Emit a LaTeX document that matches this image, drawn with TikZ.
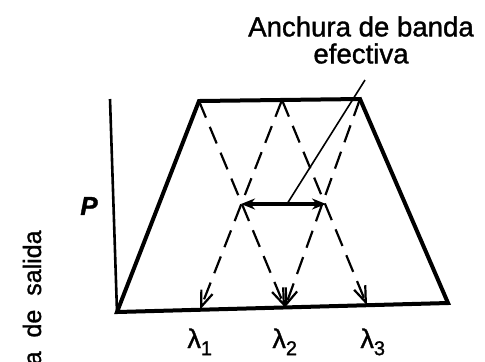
\documentclass[tikz,border=0pt]{standalone}
\usepackage{fontspec}
\setmainfont{Liberation Sans}[FakeBold=1.2]
\newfontfamily\widefont{Liberation Sans}[FakeBold=1.2,WordSpace=2]
\usetikzlibrary{arrows.meta,positioning,calc}

\newcommand{\wlen}[1]{λ\raisebox{-0.5ex}{\fontsize{10}{10}\selectfont #1}}

\begin{document}
\begin{tikzpicture}[x=0.5pt,y=-0.5pt,
  edge/.style={line width=2pt,line join=miter},
  axisline/.style={line width=1.3pt},
  ray/.style={line width=1.1pt,dash pattern=on 9pt off 5pt,
    -{Straight Barb[length=8pt,width=6pt]}},
  band/.style={line width=1.6pt,
    {Stealth[length=7pt,width=5.5pt]}-{Stealth[length=7pt,width=5.5pt]}},
  lead/.style={line width=0.8pt},
  lbl/.style={font=\fontsize{13.5}{13.5}\selectfont,inner sep=0pt}]
\clip (0,0) rectangle (485,361);
% corners of the curve
\coordinate (ax) at (110,99);
\coordinate (bl) at (117,312);
\coordinate (tl) at (199,101);
\coordinate (tm) at (282,100);
\coordinate (tr) at (360,99);
\coordinate (br) at (448,303);
% feet of the rays
\coordinate (f1) at (200,309.7);
\coordinate (f2) at (285,307.4);
\coordinate (f3) at (367,305.2);
% crossings and leader
\coordinate (xl) at (241,204);
\coordinate (xr) at (326,204);
\coordinate (ls) at (287,204);
\coordinate (le) at (365,80);

\draw[axisline] (ax) -- (bl);
\draw[edge] (bl) -- (tl) -- (tr) -- (br) -- cycle;
\draw[ray] (tl) -- (f2);
\draw[ray] (tr) -- (f2);
\draw[ray] (tm) -- (f1);
\draw[ray] (tm) -- (f3);
\draw[band] (xl) -- (xr);
\draw[lead] (ls) -- (le);

\node[lbl,align=center,font=\fontsize{13.8}{13.5}\selectfont] (bw) at (361,40)
  {Anchura de banda\\efectiva};
\node[lbl,font=\fontsize{13}{13}\selectfont\bfseries\itshape] (pw) at (89,206) {P};
\node[lbl,anchor=base west] (l1) at (187,348) {\wlen{1}};
\node[lbl,anchor=base west] (l2) at (272,348) {\wlen{2}};
\node[lbl,anchor=base west] (l3) at (360,348) {\wlen{3}};
\node[lbl,font=\widefont\fontsize{12.5}{12.5}\selectfont,
  rotate=90,anchor=base east] (yl) at (41,230) {Potencia de salida};
\end{tikzpicture}
\end{document}
